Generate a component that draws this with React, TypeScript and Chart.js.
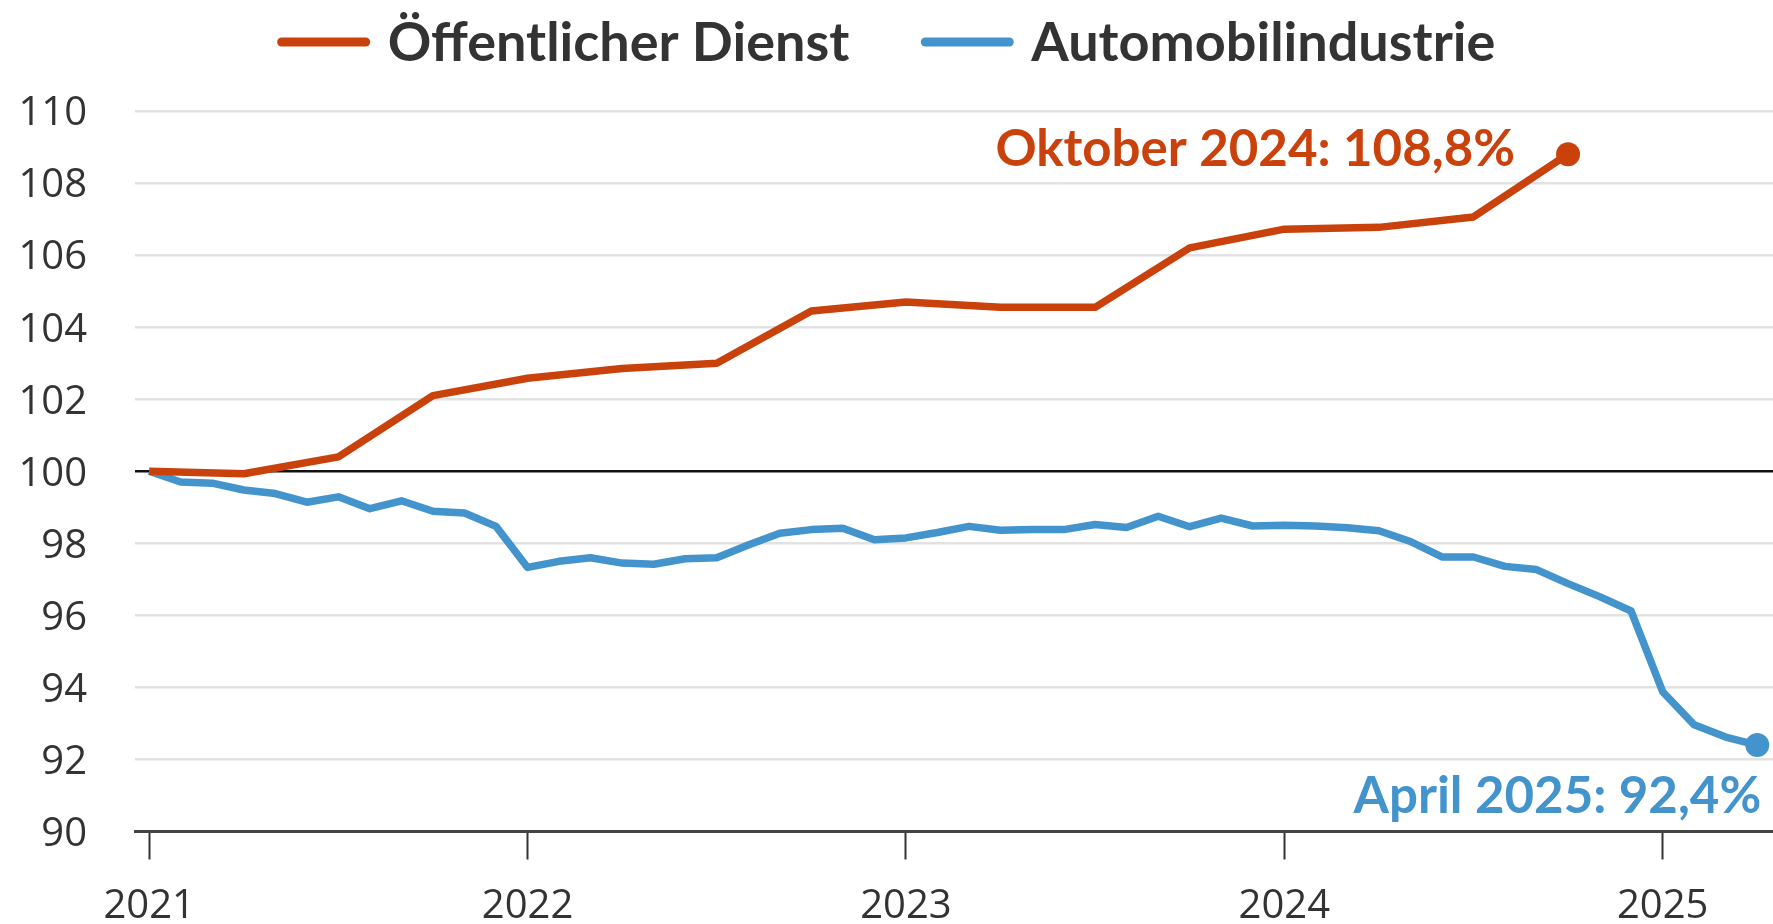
import React, { useEffect, useRef } from "react";
import { Chart, registerables } from "chart.js";

Chart.register(...registerables);

// ---- data ----
const yearLabels = ["2021", "2022", "2023", "2024", "2025"];
const yearTickMonths = [0, 12, 24, 36, 48];

const seriesNames = ["Öffentlicher Dienst", "Automobilindustrie"];
const endLabels = ["Oktober 2024: 108,8%", "April 2025: 92,4%"];

// months since January 2021
const dienstMonths = [0, 3, 6, 9, 12, 15, 18, 21, 24, 27, 30, 33, 36, 39, 42, 45];
const dienstValues = [
  100.0, 99.93, 100.4, 102.1, 102.58, 102.85, 103.0, 104.45, 104.7, 104.55, 104.55,
  106.2, 106.72, 106.77, 107.06, 108.8,
];

const autoMonths = [
  0, 1, 2, 3, 4, 5, 6, 7, 8, 9, 10, 11, 12, 13, 14, 15, 16, 17, 18, 19, 20, 21, 22, 23, 24, 25,
  26, 27, 28, 29, 30, 31, 32, 33, 34, 35, 36, 37, 38, 39, 40, 41, 42, 43, 44, 45, 46, 47, 48, 49,
  50, 51,
];
const autoValues = [
  100, 99.7, 99.67, 99.48, 99.38, 99.14, 99.29, 98.96, 99.18, 98.89, 98.84, 98.47, 97.33, 97.5,
  97.6, 97.45, 97.42, 97.57, 97.6, 97.95, 98.28, 98.38, 98.42, 98.1, 98.15, 98.3, 98.47, 98.36,
  98.38, 98.38, 98.52, 98.44, 98.75, 98.46, 98.7, 98.48, 98.5, 98.48, 98.43, 98.35, 98.05, 97.62,
  97.62, 97.36, 97.27, 96.88, 96.52, 96.12, 93.88, 92.96, 92.62, 92.4,
];

const ORANGE = "#c9420c";
const BLUE = "#4393cd";
const TEXT = "#333333";

const W = 1773;
const H = 924;

const legendPlugin = {
  id: "topLegend",
  afterDraw(chart: any) {
    const ctx = chart.ctx;
    const colors = [ORANGE, BLUE];
    const lineW = 92;
    const gap = 18;
    const itemGap = 72;
    ctx.save();
    ctx.font = "700 54px Lato, 'Open Sans', sans-serif";
    const widths = seriesNames.map((n) => ctx.measureText(n).width);
    const total = widths.reduce((a, w) => a + lineW + gap + w, 0) + itemGap;
    let x = (chart.width - total) / 2;
    const y = 42;
    seriesNames.forEach((name, i) => {
      ctx.strokeStyle = colors[i];
      ctx.lineWidth = 9;
      ctx.lineCap = "round";
      ctx.beginPath();
      ctx.moveTo(x + 4, y);
      ctx.lineTo(x + lineW - 4, y);
      ctx.stroke();
      x += lineW + gap;
      ctx.fillStyle = TEXT;
      ctx.textAlign = "left";
      ctx.textBaseline = "middle";
      ctx.fillText(name, x, y + 2);
      x += widths[i] + itemGap;
    });
    ctx.restore();
  },
};

const endLabelPlugin = {
  id: "endLabels",
  afterDatasetsDraw(chart: any) {
    const ctx = chart.ctx;
    ctx.save();
    ctx.font = "700 51px Lato, 'Open Sans', sans-serif";
    ctx.textAlign = "right";
    ctx.textBaseline = "alphabetic";
    chart.data.datasets.forEach((ds: any, i: number) => {
      const meta = chart.getDatasetMeta(i);
      const pt = meta.data[meta.data.length - 1];
      if (!pt) return;
      ctx.fillStyle = ds.borderColor;
      if (i === 0) {
        ctx.fillText(endLabels[i], pt.x - 53, pt.y + 12);
      } else {
        ctx.fillText(endLabels[i], pt.x + 4, pt.y + 68);
      }
    });
    ctx.restore();
  },
};

export default function App() {
  const ref = useRef<HTMLCanvasElement | null>(null);

  useEffect(() => {
    document.body.style.margin = "0";
    const canvas = ref.current;
    if (!canvas) return;

    const lastRadius = (n: number) => (c: any) => (c.dataIndex === n - 1 ? 12 : 0);

    const chart = new Chart(canvas, {
      type: "line",
      data: {
        datasets: [
          {
            label: seriesNames[0],
            data: dienstMonths.map((m, i) => ({ x: m, y: dienstValues[i] })),
            borderColor: ORANGE,
            backgroundColor: ORANGE,
            borderWidth: 7.5,
            borderJoinStyle: "round",
            tension: 0,
            pointRadius: lastRadius(dienstValues.length),
            pointBorderWidth: 0,
            pointBackgroundColor: ORANGE,
            clip: false,
          },
          {
            label: seriesNames[1],
            data: autoMonths.map((m, i) => ({ x: m, y: autoValues[i] })),
            borderColor: BLUE,
            backgroundColor: BLUE,
            borderWidth: 7.5,
            borderJoinStyle: "round",
            tension: 0,
            pointRadius: lastRadius(autoValues.length),
            pointBorderWidth: 0,
            pointBackgroundColor: BLUE,
            clip: false,
          },
        ],
      },
      options: {
        responsive: false,
        animation: false,
        devicePixelRatio: 1,
        layout: { autoPadding: false, padding: { top: 111, left: 0, right: 0, bottom: 0 } },
        plugins: {
          legend: { display: false },
          tooltip: { enabled: false },
        },
        scales: {
          x: {
            type: "linear",
            min: -0.45,
            max: 51.5,
            afterBuildTicks: (scale: any) => {
              scale.ticks = yearTickMonths.map((v) => ({ value: v }));
            },
            afterFit: (scale: any) => {
              scale.height = 92.5;
              scale.paddingLeft = 0;
              scale.paddingRight = 0;
            },
            ticks: {
              autoSkip: false,
              maxRotation: 0,
              padding: 23,
              color: TEXT,
              font: { family: "'Open Sans', sans-serif", size: 40 },
              callback: (v: any) => {
                const idx = yearTickMonths.indexOf(Number(v));
                return idx >= 0 ? yearLabels[idx] : "";
              },
            },
            grid: {
              drawOnChartArea: false,
              drawTicks: true,
              tickLength: 28,
              tickWidth: 2,
              tickColor: "#333",
            },
            border: { display: true, color: "#444", width: 3 },
          },
          y: {
            min: 90,
            max: 110,
            afterFit: (scale: any) => {
              scale.width = 135;
            },
            ticks: {
              stepSize: 2,
              padding: 48,
              labelOffset: 3,
              color: TEXT,
              font: { family: "'Open Sans', sans-serif", size: 40 },
            },
            grid: {
              drawTicks: false,
              color: (c: any) =>
                c.tick && c.tick.value === 100 ? "#111" : c.tick && c.tick.value === 90 ? "#444" : "#e2e2e2",
              lineWidth: 2.5,
            },
            border: { display: false },
          },
        },
      },
      plugins: [legendPlugin, endLabelPlugin],
    } as any);

    return () => chart.destroy();
  }, []);

  return (
    <div style={{ width: W, height: H, background: "#fff" }}>
      <canvas ref={ref} width={W} height={H} style={{ display: "block", width: W, height: H }} />
    </div>
  );
}
